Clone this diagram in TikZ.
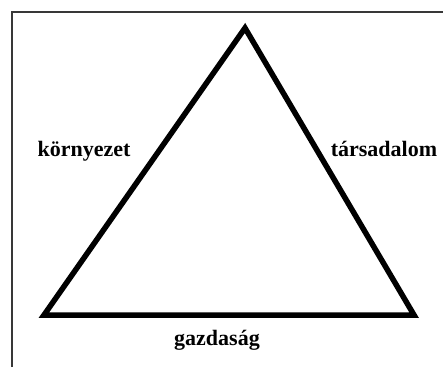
\documentclass[tikz,border=0pt]{standalone}
\usepackage{fontspec}
\setmainfont{Liberation Serif}
\begin{document}
\begin{tikzpicture}[x=1pt,y=-1pt,
  frame/.style={draw=black!78, line width=2pt},
  side/.style={draw=black, line width=5.5pt, line join=miter},
  lbl/.style={font=\fontsize{22}{26}\selectfont\bfseries, inner sep=0pt, anchor=base}]
\useasboundingbox (0,0) rectangle (443,367);
\draw[frame] (11.5,367) -- (11.5,11.5) -- (443,11.5);
\coordinate (top) at (245,28);
\coordinate (bl) at (44,315);
\coordinate (br) at (414,315);
\draw[side] (top) -- (br) -- (bl) -- cycle;
\node[lbl] (env) at (84,156) {környezet};
\node[lbl] (soc) at (384,156) {társadalom};
\node[lbl] (eco) at (217,345) {gazdaság};
\end{tikzpicture}
\end{document}
